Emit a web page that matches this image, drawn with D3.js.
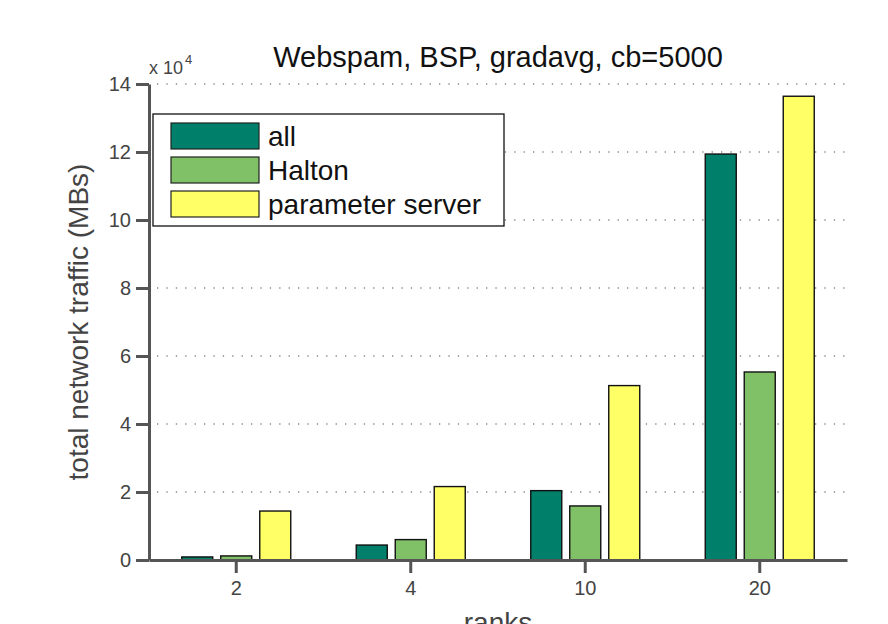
<!DOCTYPE html>
<html>
<head>
<meta charset="utf-8">
<script src="https://cdn.jsdelivr.net/npm/d3@7"></script>
<style>
  body { margin: 0; background: #fff; }
  svg text { font-family: "Liberation Sans", Arial, Helvetica, sans-serif; }
</style>
</head>
<body>
<div id="chart"></div>
<script>
// data
const ranks = ['2', '4', '10', '20'];
const seriesNames = ['all', 'Halton', 'parameter server'];
const allValues = [900, 4400, 20400, 119400];
const haltonValues = [1200, 6000, 15900, 55300];
const psValues = [14400, 21600, 51300, 136400];
const yTicks = [0, 2e4, 4e4, 6e4, 8e4, 10e4, 12e4, 14e4];
const colors = ['#00806a', '#80c168', '#ffff66'];

const width = 888, height = 624;
const plotLeft = 149, plotRight = 847, plotTop = 84, plotBottom = 560;

const svg = d3.select('#chart')
.append('svg')
.attr('width', width)
.attr('height', height);

const x = d3.scaleBand()
.domain(ranks)
.range([plotLeft, plotRight]);

const xInner = d3.scaleBand()
.domain(seriesNames)
.range([-54.5, 54.5])
.paddingInner(0.205);

const y = d3.scaleLinear()
.domain([0, 14e4])
.range([plotBottom, plotTop]);

// dotted grid
svg.append('g')
.selectAll('line')
.data(yTicks.filter(d => d > 0))
.enter()
.append('line')
.attr('x1', plotLeft + 8)
.attr('x2', plotRight)
.attr('y1', d => y(d))
.attr('y2', d => y(d))
.attr('stroke', '#888')
.attr('stroke-width', 1.3)
.attr('stroke-dasharray', '1.3,8.1');

// bars
const rows = ranks.map((r, i) => ({
	rank: r,
	vals: [allValues[i], haltonValues[i], psValues[i]]
}));

const groups = svg.append('g')
.selectAll('g')
.data(rows)
.enter()
.append('g')
.attr('transform', d => 'translate(' + (x(d.rank) + x.bandwidth() / 2) + ',0)');

groups.selectAll('rect')
.data(d => d.vals.map((v, j) => ({ name: seriesNames[j], v: v, c: colors[j] })))
.enter()
.append('rect')
.attr('x', d => xInner(d.name))
.attr('width', xInner.bandwidth())
.attr('y', d => y(d.v))
.attr('height', d => plotBottom - y(d.v))
.attr('fill', d => d.c)
.attr('stroke', '#111')
.attr('stroke-width', 1.4);

// axes
const yAxis = svg.append('g')
.attr('transform', 'translate(' + plotLeft + ',0)')
.call(d3.axisLeft(y).tickValues(yTicks).tickSize(13).tickSizeOuter(0).tickPadding(5).tickFormat(d => d / 1e4));

const xAxis = svg.append('g')
.attr('transform', 'translate(0,' + plotBottom + ')')
.call(d3.axisBottom(x).tickSize(13).tickSizeOuter(0).tickPadding(8));

[yAxis, xAxis].forEach(a => {
	a.attr('font-size', null).attr('font-family', null);
	a.select('.domain').attr('stroke', '#555').attr('stroke-width', 3);
	a.selectAll('.tick line').attr('stroke', '#555').attr('stroke-width', 3);
	a.selectAll('.tick text')
	.attr('fill', '#444')
	.style('font-size', '20px');
});

// x 10^4 multiplier
const mult = svg.append('text')
.attr('x', 149)
.attr('y', 74)
.attr('fill', '#444')
.style('font-size', '18px')
.text('x 10');
mult.append('tspan')
.attr('dx', 2)
.attr('dy', -10)
.style('font-size', '13px')
.text('4');

// title
svg.append('text')
.attr('x', (plotLeft + plotRight) / 2)
.attr('y', 67)
.attr('text-anchor', 'middle')
.attr('fill', '#111')
.style('font-size', '29px')
.text('Webspam, BSP, gradavg, cb=5000');

// axis labels
svg.append('text')
.attr('transform', 'translate(88,' + ((plotTop + plotBottom) / 2) + ') rotate(-90)')
.attr('text-anchor', 'middle')
.attr('fill', '#444')
.style('font-size', '28px')
.text('total network traffic (MBs)');

svg.append('text')
.attr('x', (plotLeft + plotRight) / 2)
.attr('y', 632)
.attr('text-anchor', 'middle')
.attr('fill', '#444')
.style('font-size', '28px')
.text('ranks');

// legend
const legend = svg.append('g')
.attr('transform', 'translate(153,114)');

legend.append('rect')
.attr('width', 351)
.attr('height', 112)
.attr('fill', '#fff')
.attr('stroke', '#111')
.attr('stroke-width', 1.3);

const items = legend.selectAll('g')
.data(seriesNames)
.enter()
.append('g')
.attr('transform', (d, i) => 'translate(0,' + (9 + i * 34) + ')');

items.append('rect')
.attr('x', 18)
.attr('width', 88)
.attr('height', 26)
.attr('fill', (d, i) => colors[i])
.attr('stroke', '#222')
.attr('stroke-width', 1.2);

items.append('text')
.attr('x', 115)
.attr('y', 23)
.attr('fill', '#111')
.style('font-size', '28px')
.text(d => d);
</script>
</body>
</html>
